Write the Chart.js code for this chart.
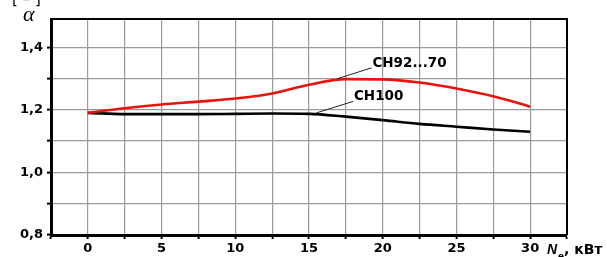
<!DOCTYPE html>
<html>
<head>
<meta charset="utf-8">
<script src="https://cdn.jsdelivr.net/npm/chart.js@4"></script>
<style>
  html, body { margin: 0; padding: 0; background: #fff; }
  #wrap { width: 607px; height: 257px; position: relative; }
</style>
</head>
<body>
<div id="wrap"><canvas id="c" width="607" height="257"></canvas></div>
<script>
// ---- data ----
const power = [0, 2.5, 5, 7.5, 10, 12.5, 15, 17.5, 20, 22.5, 25, 27.5, 30];          // N_e, кВт
const alphaCH92_70 = [1.19, 1.205, 1.217, 1.226, 1.236, 1.252, 1.28, 1.298, 1.297, 1.287, 1.268, 1.243, 1.21];
const alphaCH100   = [1.19, 1.186, 1.186, 1.186, 1.187, 1.188, 1.187, 1.178, 1.167, 1.155, 1.146, 1.137, 1.13];
const xTickLabels = ['0', '5', '10', '15', '20', '25', '30'];
const yTickLabels = ['0,8', '1,0', '1,2', '1,4'];
const seriesNames = ['CH92...70', 'CH100'];

const toPts = (ys) => power.map((x, i) => ({ x: x, y: ys[i] }));

const FONT = "'DejaVu Sans', sans-serif";

const decor = {
  id: 'decor',
  afterDraw(chart) {
    const { ctx, chartArea: a, scales: { x, y } } = chart;
    ctx.save();
    // top and right frame
    ctx.strokeStyle = '#000';
    ctx.lineWidth = 2;
    ctx.beginPath();
    ctx.moveTo(a.left, a.top);
    ctx.lineTo(a.right, a.top);
    ctx.lineTo(a.right, a.bottom);
    ctx.stroke();

    // leader lines
    ctx.lineWidth = 1;
    ctx.strokeStyle = '#222';
    ctx.beginPath();
    ctx.moveTo(x.getPixelForValue(16.9), y.getPixelForValue(1.299));
    ctx.lineTo(x.getPixelForValue(19.25), y.getPixelForValue(1.334));
    ctx.moveTo(x.getPixelForValue(15.5), y.getPixelForValue(1.19));
    ctx.lineTo(x.getPixelForValue(18.0), y.getPixelForValue(1.227));
    ctx.stroke();

    // series labels
    ctx.fillStyle = '#000';
    ctx.font = "bold 13.5px " + FONT;
    ctx.textBaseline = 'middle';
    ctx.textAlign = 'left';
    ctx.fillText(seriesNames[0], x.getPixelForValue(19.3), y.getPixelForValue(1.349));
    ctx.fillText(seriesNames[1], x.getPixelForValue(18.05), y.getPixelForValue(1.2425));

    // y axis title
    ctx.font = "italic 22px 'Liberation Serif', serif";
    ctx.textBaseline = 'alphabetic';
    ctx.fillText('α', 23, 21);
    ctx.font = "15px " + FONT;
    ctx.fillText('[ – ]', 12, 4);

    // x axis title
    const base = 254;
    ctx.font = "italic bold 14px 'Liberation Sans', sans-serif";
    ctx.fillText('N', 547, base);
    ctx.font = "bold 9px " + FONT;
    ctx.fillText('е', 558, base + 5);
    ctx.font = "bold 14px " + FONT;
    ctx.fillText(', кВт', 564, base);
    ctx.restore();
  }
};

new Chart(document.getElementById('c'), {
  type: 'line',
  data: {
    datasets: [
      { label: seriesNames[0], data: toPts(alphaCH92_70), borderColor: '#e8140c', borderWidth: 2.6,
        pointRadius: 0, cubicInterpolationMode: 'monotone', fill: false },
      { label: seriesNames[1], data: toPts(alphaCH100), borderColor: '#000', borderWidth: 2.6,
        pointRadius: 0, cubicInterpolationMode: 'monotone', fill: false }
    ]
  },
  options: {
    responsive: false,
    animation: false,
    devicePixelRatio: 1,
    layout: { padding: { left: 0, right: 40, top: 19, bottom: 0 } },
    plugins: { legend: { display: false }, tooltip: { enabled: false } },
    scales: {
      x: {
        type: 'linear',
        min: -2.5, max: 32.5,
        afterFit: (s) => { s.height = 22; },
        ticks: {
          stepSize: 2.5, autoSkip: false, maxRotation: 0, padding: 2,
          color: '#000', font: { family: FONT, weight: 'bold', size: 13 },
          callback: (v) => {
            const i = xTickLabels.indexOf(String(v));
            return i >= 0 ? xTickLabels[i] : '';
          }
        },
        grid: { color: '#9a9a9a', lineWidth: 1.2, tickColor: '#000', tickLength: 4, tickWidth: 2 },
        border: { color: '#000', width: 3 }
      },
      y: {
        min: 0.8, max: 1.49,
        afterFit: (s) => { s.width = 51; },
        ticks: {
          stepSize: 0.1, includeBounds: false, padding: 4,
          color: '#000', font: { family: FONT, weight: 'bold', size: 13 },
          callback: (v) => {
            const s = v.toFixed(1).replace('.', ',');
            return yTickLabels.includes(s) ? s : '';
          }
        },
        grid: { color: '#9a9a9a', lineWidth: 1.2, tickColor: '#000', tickLength: 4, tickWidth: 2 },
        border: { color: '#000', width: 3 }
      }
    }
  },
  plugins: [decor]
});
</script>
</body>
</html>
